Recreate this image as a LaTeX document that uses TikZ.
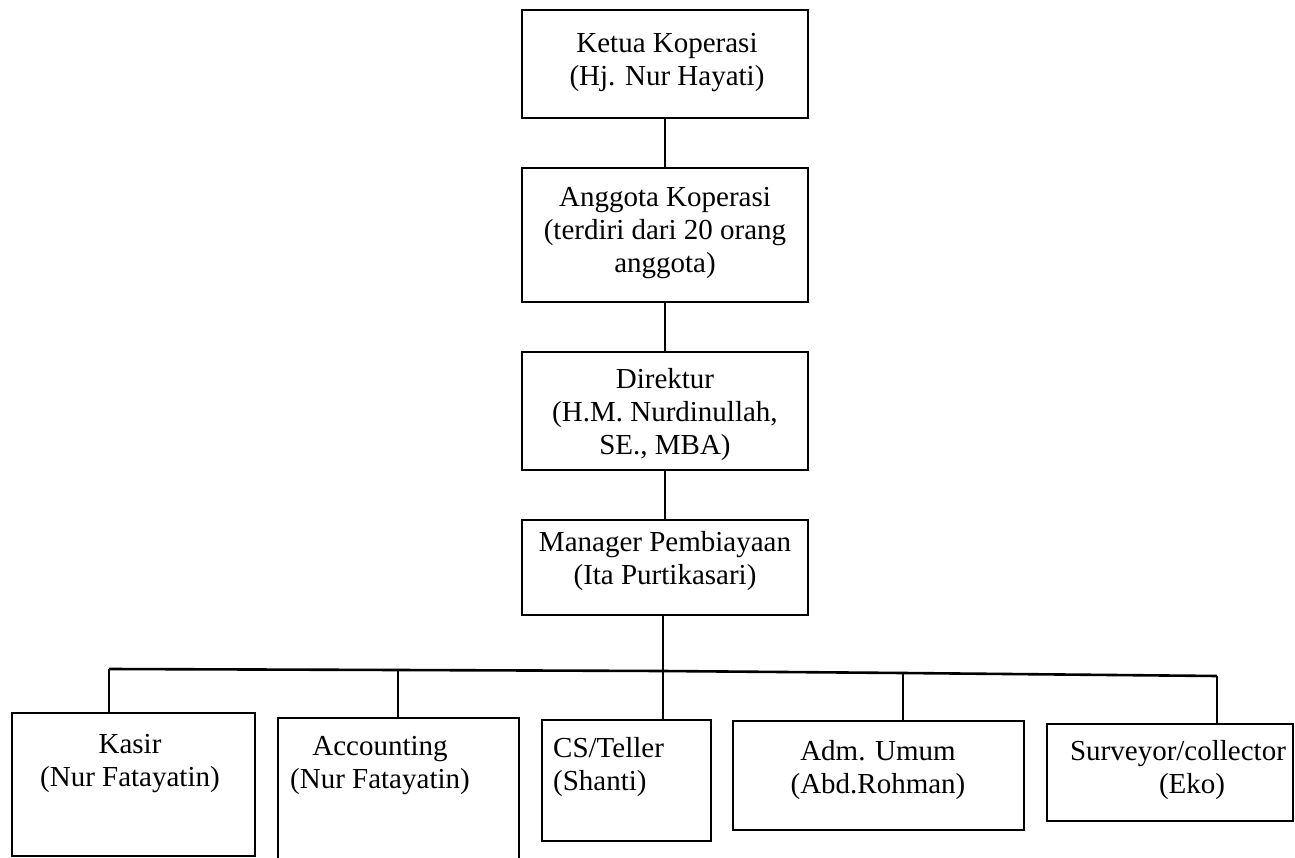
\documentclass[tikz,border=0pt]{standalone}
\usepackage{fontspec}
\setmainfont{Liberation Serif}
\tikzset{
  box/.style={draw=black, line width=2.6pt, rectangle, inner sep=0pt},
  txt/.style={align=center, inner sep=0pt, font=\fontsize{29}{33}\selectfont},
  conn/.style={draw=black, line width=2.6pt}
}
\begin{document}
\begin{tikzpicture}[x=1pt,y=-1pt]
\clip (0,0) rectangle (1295,858);
\fill[white] (0,0) rectangle (1295,858);
% top column boxes
\node[box, minimum width=286pt, minimum height=108pt] (ketua) at (665,64) {};
\node[txt] (ketuaT) at (667,63) {Ketua Koperasi\\(Hj. Nur Hayati)};
\node[box, minimum width=286pt, minimum height=134pt] (anggota) at (665,235) {};
\node[txt] (anggotaT) at (665,233) {Anggota Koperasi\\(terdiri dari 20 orang\\anggota)};
\node[box, minimum width=286pt, minimum height=118pt] (direktur) at (665,411) {};
\node[txt] (direkturT) at (665,415) {Direktur\\(H.M. Nurdinullah,\\SE., MBA)};
\node[box, minimum width=286pt, minimum height=95pt] (manager) at (665,567.5) {};
\node[txt] (managerT) at (665,561) {Manager Pembiayaan\\(Ita Purtikasari)};
% bottom row boxes
\node[box, minimum width=243pt, minimum height=143pt] (kasir) at (133.5,784.5) {};
\node[txt] (kasirT) at (130,764) {Kasir\\(Nur Fatayatin)};
\node[box, minimum width=241pt, minimum height=160pt] (acc) at (398.5,798) {};
\node[txt] (accT) at (380,766) {Accounting\\(Nur Fatayatin)};
\node[box, minimum width=169pt, minimum height=121pt] (cs) at (626.5,780.5) {};
\node[txt, align=left, anchor=west] (csT) at (553,767) {CS/Teller\\(Shanti)};
\node[box, minimum width=291pt, minimum height=109pt] (adm) at (878.5,775.5) {};
\node[txt] (admT) at (878,770) {Adm. Umum\\(Abd.Rohman)};
\node[box, minimum width=246pt, minimum height=97pt] (surv) at (1170,772.5) {};
\node[txt] (survT) at (1178,770) {Surveyor/collector\\\hspace*{28pt}(Eko)};
% connectors
\draw[conn] (ketua.south) -- (anggota.north);
\draw[conn] (anggota.south) -- (direktur.north);
\draw[conn] (direktur.south) -- (manager.north);
\coordinate (bm) at (663,671);
\coordinate (b1) at (109,669);
\coordinate (b2) at (398,670);
\coordinate (b3) at (663,671);
\coordinate (b4) at (903,673);
\coordinate (b5) at (1217,676);
\draw[conn] (manager.south -| bm) -- (bm);
\draw[conn] (b1) -- (b2) -- (b3) -- (b4) -- (b5);
\draw[conn] (b1) -- (b1 |- kasir.north);
\draw[conn] (b2) -- (b2 |- acc.north);
\draw[conn] (b3) -- (b3 |- cs.north);
\draw[conn] (b4) -- (b4 |- adm.north);
\draw[conn] (b5) -- (b5 |- surv.north);
\end{tikzpicture}
\end{document}
